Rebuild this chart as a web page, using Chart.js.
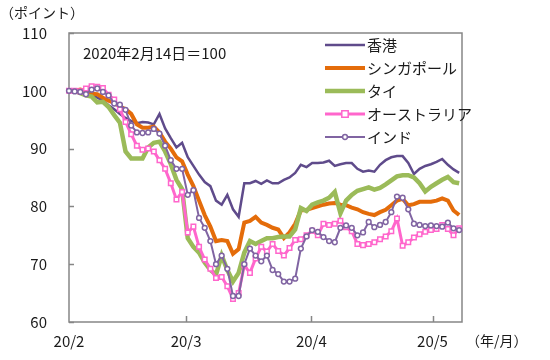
<!DOCTYPE html>
<html>
<head>
<meta charset="utf-8">
<script src="https://cdn.jsdelivr.net/npm/chart.js@4/dist/chart.umd.min.js"></script>
<style>
    body { margin: 0; background: #fff; }
    #chart { display: block; }
</style>
</head>
<body>
<canvas id="chart" width="550" height="360"></canvas>
<script>
// tick labels (yy/m) and where they sit, in days from the first close
const xLabels = ["20/2", "20/3", "20/4", "20/5"];
const xTickDays = [0, 29, 60, 90];
const seriesNames = ["香港", "シンガポール", "タイ", "オーストラリア", "インド"];

// index, 2020/2/14 = 100
const hongKong = [100, 100, 99.8, 99.5, 99.3, 98.8, 98.3, 97.5, 96.8, 96, 95.3, 94.8, 94.4, 94.6, 94.5, 94.2, 96, 93.5, 91.8, 90.2,
    91, 88.5, 87, 85.5, 84.2, 83.5, 81, 80.3, 82, 79.5, 78.2, 84, 84, 84.4, 83.9, 84.5, 84, 84, 84.6, 85,
    85.8, 87.2, 86.8, 87.5, 87.5, 87.6, 87.9, 87, 87.3, 87.5, 87.5, 86.5, 86, 86.2, 86, 87.2, 88, 88.5, 88.7, 88.7,
    87.5, 85.6, 86.5, 87, 87.3, 87.7, 88.2, 87.2, 86.4, 85.8];
const singapore = [100, 100, 100.2, 100, 99.5, 99.4, 98.8, 98.3, 97.9, 97.3, 96.8, 96, 94.2, 93.6, 93.6, 93.8, 92.8, 91.2, 90, 88.5,
    87.8, 85.5, 83.5, 81, 78.5, 76.5, 74, 74.2, 74, 71.8, 72.6, 77.2, 77.5, 78.2, 77.2, 76.8, 76.3, 76, 74.5, 75.5,
    77, 79.3, 79.4, 79.7, 80, 80.3, 80.5, 80.6, 80.3, 80.2, 79.8, 79.5, 79, 78.7, 78.5, 79, 79.4, 80.2, 81, 81.3,
    80.2, 80.4, 80.8, 80.8, 80.8, 81, 81.4, 81, 79.3, 78.5];
const thailand = [100, 100, 99.6, 99.2, 99, 98, 98.1, 97.2, 95.8, 94.5, 89.5, 88.3, 88.3, 88.3, 90.2, 91, 91.2, 89.5, 87.3, 84.6,
    83, 74.5, 73, 72, 70.3, 69, 68.2, 71.5, 69, 67, 68.5, 72, 74, 73.5, 74, 74.5, 74.5, 74.7, 74.8, 74.8,
    76, 79.7, 79.2, 80.3, 80.7, 81, 81.5, 82.5, 78.8, 81, 82, 82.7, 83, 83.3, 82.9, 83.2, 83.8, 84.5, 85.2, 85.4,
    85.4, 85, 84, 82.6, 83.4, 84, 84.6, 85.1, 84.2, 84];
const australia = [100, 100, 99.9, 100.4, 100.8, 100.7, 100.5, 99.3, 98.5, 96.8, 94.6, 92.5, 90.5, 89.8, 90, 89.5, 88, 86.5, 84, 81.2,
    82.5, 75.5, 76.5, 73, 70.8, 69.2, 67.6, 67.8, 66.2, 64, 65, 69.8, 68.5, 71, 73, 72.2, 73.5, 72.3, 71.5, 72.8,
    74.2, 74.3, 75, 75.8, 75, 77, 76.8, 77, 77.5, 76.4, 75.7, 73.5, 73.3, 73.5, 73.8, 74.3, 74.8, 75.7, 77.9, 73.2,
    73.8, 74.6, 75.2, 75.6, 75.9, 76.1, 76.8, 76.1, 75, 76.2];
const india = [100, 99.9, 99.8, 99.4, 100.2, 100.4, 99.8, 99.2, 97.8, 97.6, 96.7, 94, 92.8, 92.7, 92.8, 93.4, 92.6, 90.5, 88, 86.5,
    86.5, 82, 82.8, 78, 76.3, 74, 70, 71.5, 69.2, 64.5, 64.5, 70, 72.7, 71.5, 70.5, 71.5, 69, 68.3, 67, 67,
    67.5, 72.7, 74.8, 75.9, 75.6, 74.7, 74, 73.8, 76.3, 76.7, 76.3, 75, 75.5, 77.3, 76.4, 76.8, 77.3, 79, 81.7, 81.5,
    79.5, 77, 76.8, 76.6, 76.7, 76.6, 76.5, 77.2, 76.2, 75.9];

// closes are spread evenly, about 1.4 days apart
const toPoints = arr => arr.map((v, i) => ({ x: i * 1.4, y: v }));

const font = '"Noto Sans CJK JP", "Noto Sans", sans-serif';
const textColor = "#1a1a1a";
const frameColor = "#868686";

const styles = [
    { color: "#5f4b8b", width: 2.5, marker: false },
    { color: "#e46c0a", width: 4, marker: false },
    { color: "#9bbb59", width: 4.5, marker: false },
    { color: "#ff66cc", width: 3, marker: "rect", radius: 3.2 },
    { color: "#8064a2", width: 2, marker: "circle", radius: 2.4 }
];
const allSeries = [hongKong, singapore, thailand, australia, india];

const datasets = allSeries.map((arr, i) => {
    const s = styles[i];
    return {
        label: seriesNames[i],
        data: toPoints(arr),
        borderColor: s.color,
        borderWidth: s.width,
        pointStyle: s.marker || "circle",
        pointRadius: s.marker ? s.radius : 0,
        pointBackgroundColor: "#fff",
        pointBorderColor: s.color,
        pointBorderWidth: 1.5,
        tension: 0,
        clip: false,
        order: 5 - i
    };
});

const decorations = {
    id: "decorations",
    beforeDatasetsDraw(chart) {
        const { ctx, chartArea: { left, right, top, bottom }, scales: { x, y } } = chart;
        ctx.save();
        ctx.strokeStyle = frameColor;
        ctx.lineWidth = 1.5;
        ctx.strokeRect(left, top, right - left, bottom - top);
        ctx.beginPath();
        y.ticks.forEach(t => {
            const py = Math.round(y.getPixelForValue(t.value)) + 0.5;
            ctx.moveTo(left, py);
            ctx.lineTo(left + 5, py);
        });
        xTickDays.slice(1).forEach(d => {
            const px = Math.round(x.getPixelForValue(d)) + 0.5;
            ctx.moveTo(px, bottom);
            ctx.lineTo(px, bottom - 6);
        });
        ctx.stroke();
        ctx.restore();
    },
    afterDraw(chart) {
        const { ctx } = chart;
        ctx.save();
        ctx.fillStyle = textColor;
        ctx.textBaseline = "middle";
        ctx.font = "14px " + font;
        ctx.textAlign = "left";
        ctx.fillText("（ポイント）", 0, 13);
        ctx.fillText("（年/月）", 466, 341);
        ctx.font = "15px " + font;
        ctx.fillText("2020年2月14日＝100", 83, 53);

        // legend inside the plot area
        ctx.font = "15px " + font;
        chart.data.datasets.forEach((ds, i) => {
            const s = styles[i];
            const ly = 45 + i * 23;
            ctx.strokeStyle = s.color;
            ctx.lineWidth = s.width;
            ctx.beginPath();
            ctx.moveTo(325, ly);
            ctx.lineTo(365, ly);
            ctx.stroke();
            if (s.marker) {
                ctx.fillStyle = "#fff";
                ctx.lineWidth = 1.5;
                ctx.beginPath();
                if (s.marker === "rect") {
                    ctx.rect(345 - s.radius, ly - s.radius, s.radius * 2, s.radius * 2);
                } else {
                    ctx.arc(345, ly, s.radius, 0, Math.PI * 2);
                }
                ctx.fill();
                ctx.stroke();
            }
            ctx.fillStyle = textColor;
            ctx.fillText(ds.label, 367, ly);
        });
        ctx.restore();
    }
};

new Chart(document.getElementById("chart").getContext("2d"), {
    type: "line",
    data: { datasets: datasets },
    options: {
        responsive: false,
        animation: false,
        devicePixelRatio: 1,
        layout: { padding: { left: 0, right: 88, top: 33, bottom: 0 } },
        plugins: { legend: { display: false }, tooltip: { enabled: false } },
        scales: {
            x: {
                type: "linear",
                min: 0,
                max: 97.3,
                grid: { display: false, drawTicks: false },
                border: { display: false },
                afterBuildTicks: scale => {
                    scale.ticks = xTickDays.map(v => ({ value: v }));
                },
                afterFit: scale => { scale.height = 38; },
                ticks: {
                    autoSkip: false,
                    maxRotation: 0,
                    padding: 10,
                    color: textColor,
                    font: { family: font, size: 15 },
                    callback: (v) => xLabels[xTickDays.indexOf(v)]
                }
            },
            y: {
                min: 60,
                max: 110,
                grid: { display: false, drawTicks: false },
                border: { display: false },
                afterFit: scale => { scale.width = 69; },
                ticks: {
                    stepSize: 10,
                    padding: 22,
                    color: textColor,
                    font: { family: font, size: 15 }
                }
            }
        }
    },
    plugins: [decorations]
});
</script>
</body>
</html>
